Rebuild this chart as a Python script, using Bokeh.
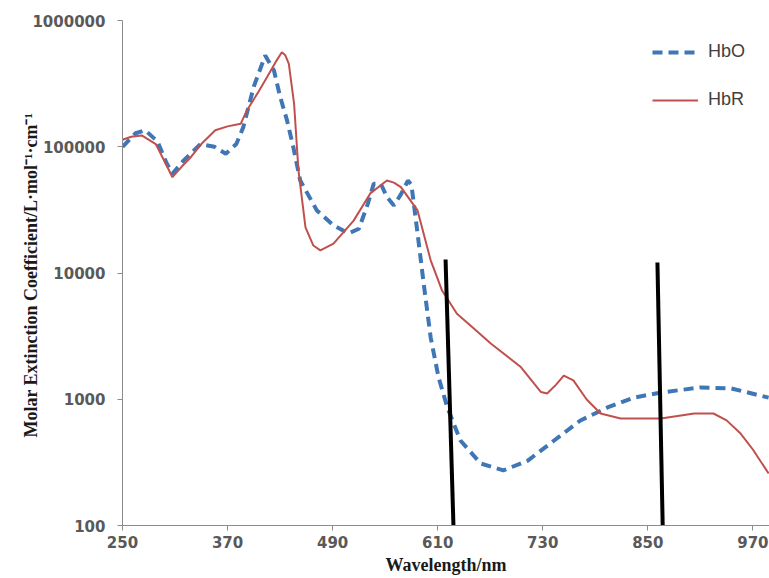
from bokeh.plotting import figure
from bokeh.models import Range1d, FixedTicker, BasicTickFormatter, Legend, LegendItem
from bokeh.embed import file_html
from bokeh.resources import INLINE

# HbO (oxygenated haemoglobin)
hbo_wl = [250, 265, 276, 290, 300, 307, 320, 339, 355, 368, 380, 388, 400, 413, 423, 430, 438, 445,
          453, 472, 491, 508, 520, 530, 537, 545, 552, 560, 568, 576, 580, 587, 594, 602, 611, 621,
          636, 659, 685, 713, 743, 773, 804, 834, 865, 910, 945, 988]
hbo_val = [100000, 128000, 135000, 110000, 75000, 61000, 78000, 105000, 100000, 88000, 105000, 143000,
           300000, 528000, 402000, 250000, 161000, 100000, 54000, 31300, 23800, 20600, 22400, 35000,
           51000, 51000, 40000, 34300, 42000, 54000, 50000, 20600, 8260, 3080, 1490, 861, 471, 310,
           273, 327, 471, 679, 861, 1030, 1130, 1240, 1220, 1030]

# HbR (deoxygenated haemoglobin)
hbr_wl = [250, 260, 272, 288, 300, 307, 318, 328, 340, 356, 370, 385, 392, 405, 415, 425, 432, 436,
          440, 446, 451, 459, 468, 476, 491, 514, 533, 552, 560, 568, 587, 602, 610, 615, 632, 650,
          671, 705, 728, 735, 745, 754, 765, 780, 796, 819, 865, 903, 925, 940, 956, 970, 988]
hbr_val = [113500, 120000, 123000, 105000, 72000, 57400, 70000, 82600, 105000, 135000, 145000, 152000,
           194000, 270000, 355000, 470000, 561000, 530000, 454000, 219000, 64600, 23000, 16500, 15100,
           17100, 26000, 42700, 54000, 52000, 47900, 31300, 12600, 9000, 7260, 4750, 3700, 2750, 1800,
           1140, 1110, 1300, 1540, 1410, 1000, 771, 704, 704, 771, 771, 680, 535, 400, 258]

# Two black marker lines (top point -> bottom point)
mark_x0 = [619, 861]
mark_y0 = [12800, 12100]
mark_x1 = [628, 867]
mark_y1 = [100, 100]

x_ticks = [250, 370, 490, 610, 730, 850, 970]
y_ticks = [100, 1000, 10000, 100000, 1000000]
y_tick_labels = ["100", "1000", "10000", "100000", "1000000"]

x_title = "Wavelength/nm"
y_title = "Molar Extinction  Coefficient/L\u00b7mol\u207b\u00b9\u00b7cm\u207b\u00b9"
series_names = ["HbO", "HbR"]

p = figure(width=769, height=578, y_axis_type="log", output_backend="svg", toolbar_location=None,
           x_range=Range1d(250, 989), y_range=Range1d(100, 1000000),
           min_border_left=122, min_border_right=0, min_border_top=20, min_border_bottom=53)
p.outline_line_color = None
p.xgrid.visible = False
p.ygrid.visible = False

blue = "#3f77b6"
red = "#c0504d"

r_hbo = p.line(hbo_wl, hbo_val, line_color=blue, line_width=4, line_dash="10 6")
r_hbr = p.line(hbr_wl, hbr_val, line_color=red, line_width=2)
p.segment(x0=mark_x0, y0=mark_y0, x1=mark_x1, y1=mark_y1, line_color="black", line_width=4)

for ax in (p.xaxis[0], p.yaxis[0]):
    ax.axis_line_color = "#8c8c8c"
    ax.axis_line_width = 1
    ax.major_tick_line_color = "#8c8c8c"
    ax.major_tick_in = 0
    ax.major_tick_out = 5
    ax.minor_tick_line_color = None
    ax.major_label_text_font = "DejaVu Sans"
    ax.major_label_text_font_style = "bold"
    ax.major_label_text_font_size = "15px"
    ax.major_label_text_color = "#595959"
    ax.axis_label_text_font = "Liberation Serif"
    ax.axis_label_text_font_style = "bold"
    ax.axis_label_text_color = "#1a1a1a"

p.xaxis.ticker = FixedTicker(ticks=x_ticks)
p.xaxis.major_label_standoff = 5
p.xaxis.axis_label = x_title
p.xaxis.axis_label_text_font_size = "18px"
p.xaxis.axis_label_standoff = 4

p.yaxis.ticker = FixedTicker(ticks=y_ticks)
p.yaxis.formatter = BasicTickFormatter(use_scientific=False)
p.yaxis.major_label_overrides = {t: s for t, s in zip(y_ticks, y_tick_labels)}
p.yaxis.major_label_standoff = 12
p.yaxis.axis_label = y_title
p.yaxis.axis_label_text_font_size = "18px"
p.yaxis.axis_label_standoff = -12

legend = Legend(items=[LegendItem(label=series_names[0], renderers=[r_hbo]),
                       LegendItem(label=series_names[1], renderers=[r_hbr])],
                location=(530, 415), orientation="vertical", padding=0, margin=0, spacing=27,
                label_height=20, glyph_height=20, glyph_width=46, label_standoff=10,
                label_text_font="Liberation Sans", label_text_font_size="18px",
                label_text_color="#404040", border_line_color=None, background_fill_alpha=0)
p.add_layout(legend)

open("out.html", "w").write(file_html(p, INLINE))
